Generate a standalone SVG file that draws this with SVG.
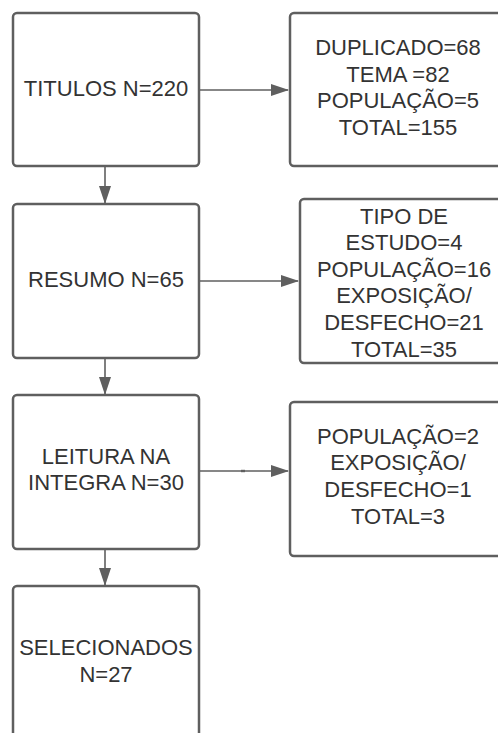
<svg xmlns="http://www.w3.org/2000/svg" width="498" height="733" viewBox="0 0 498 733">
<style>
.box{fill:#fff;stroke:#5f5f5f;stroke-width:2.5}
.t{font-family:"Liberation Sans",Arial,sans-serif;font-size:22px;fill:#333;text-anchor:middle}
.c{stroke:#5f5f5f;stroke-width:1.6;fill:none}
</style>
<defs>
<marker id="ah" markerWidth="18" markerHeight="12" refX="17" refY="6" orient="auto" markerUnits="userSpaceOnUse">
<path d="M0,0 L18,6 L0,12 Z" fill="#5f5f5f"/>
</marker>
</defs>
<rect width="498" height="733" fill="#fff"/>
<g id="connectors">
<line class="c" x1="199" y1="90" x2="288" y2="90" marker-end="url(#ah)"/>
<line class="c" x1="105" y1="167" x2="105" y2="203" marker-end="url(#ah)"/>
<line class="c" x1="199" y1="281" x2="298" y2="281" marker-end="url(#ah)"/>
<line class="c" x1="105" y1="359" x2="105" y2="394" marker-end="url(#ah)"/>
<line class="c" x1="199" y1="471" x2="288" y2="471" marker-end="url(#ah)"/>
<line class="c" x1="105" y1="550" x2="105" y2="585" marker-end="url(#ah)"/>
<line x1="241" y1="471" x2="245" y2="471" stroke="#5f5f5f" stroke-width="2.4"/>
</g>
<g id="titulos">
<rect class="box" x="13" y="13" width="186" height="153" rx="4"/>
<text class="t" x="106" y="95.5">TITULOS N=220</text>
</g>
<g id="exclusao1">
<rect class="box" x="290" y="13" width="220" height="153" rx="4"/>
<text class="t" x="398" y="55">DUPLICADO=68</text>
<text class="t" x="398" y="81.5">TEMA =82</text>
<text class="t" x="398" y="108">POPULAÇÃO=5</text>
<text class="t" x="398" y="134.5">TOTAL=155</text>
</g>
<g id="resumo">
<rect class="box" x="13" y="204" width="186" height="154" rx="4"/>
<text class="t" x="106" y="287">RESUMO N=65</text>
</g>
<g id="exclusao2">
<rect class="box" x="300" y="199" width="210" height="164" rx="4"/>
<text class="t" x="404" y="223.5">TIPO DE</text>
<text class="t" x="404" y="250">ESTUDO=4</text>
<text class="t" x="404" y="276.5">POPULAÇÃO=16</text>
<text class="t" x="404" y="303">EXPOSIÇÃO/</text>
<text class="t" x="404" y="330">DESFECHO=21</text>
<text class="t" x="404" y="356.5">TOTAL=35</text>
</g>
<g id="leitura">
<rect class="box" x="13" y="395" width="186" height="154" rx="4"/>
<text class="t" x="106" y="463.5">LEITURA NA</text>
<text class="t" x="106" y="490">INTEGRA N=30</text>
</g>
<g id="exclusao3">
<rect class="box" x="290" y="402" width="220" height="154" rx="4"/>
<text class="t" x="398" y="443.5">POPULAÇÃO=2</text>
<text class="t" x="398" y="470">EXPOSIÇÃO/</text>
<text class="t" x="398" y="496.5">DESFECHO=1</text>
<text class="t" x="398" y="523.5">TOTAL=3</text>
</g>
<g id="selecionados">
<rect class="box" x="13" y="586" width="186" height="170" rx="4"/>
<text class="t" x="106" y="655">SELECIONADOS</text>
<text class="t" x="106" y="682">N=27</text>
</g>
</svg>
